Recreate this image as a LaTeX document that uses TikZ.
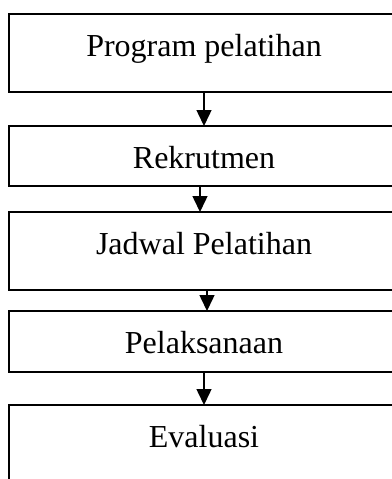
\documentclass[tikz,border=0pt]{standalone}
\usepackage{fontspec}
\setmainfont{Liberation Serif}
\usepackage{tikz}
\usetikzlibrary{arrows.meta, positioning}

\begin{document}
\begin{tikzpicture}[
  box/.style = {draw, line width=1.5pt, minimum width=390pt, inner ysep=0pt, outer sep=0pt, text height=42pt, font=\fontsize{32pt}{38pt}\selectfont},
  arrow/.style = {line width=1.5pt, -{Triangle[length=16pt,width=15pt]}}
]
\useasboundingbox (0,0) rectangle (391pt,-479pt);
\node[box, text depth=36pt, anchor=north] (prog) at (204pt,-14pt) {Program pelatihan};
\node[box, text depth=18pt, below=34pt of prog] (rekrut) {Rekrutmen};
\node[box, text depth=36pt, below=26pt of rekrut] (jadwal) {Jadwal Pelatihan};
\node[box, text depth=19pt, below=21pt of jadwal] (laksana) {Pelaksanaan};
\node[box, text depth=36pt, below=33pt of laksana] (eval) {Evaluasi};

\draw[arrow] (prog) -- (rekrut);
\draw[arrow] ([xshift=-4pt]rekrut.south) -- ([xshift=-4pt]jadwal.north);
\draw[arrow] ([xshift=3pt]jadwal.south) -- ([xshift=3pt]laksana.north);
\draw[arrow] (laksana) -- (eval);
\end{tikzpicture}
\end{document}
